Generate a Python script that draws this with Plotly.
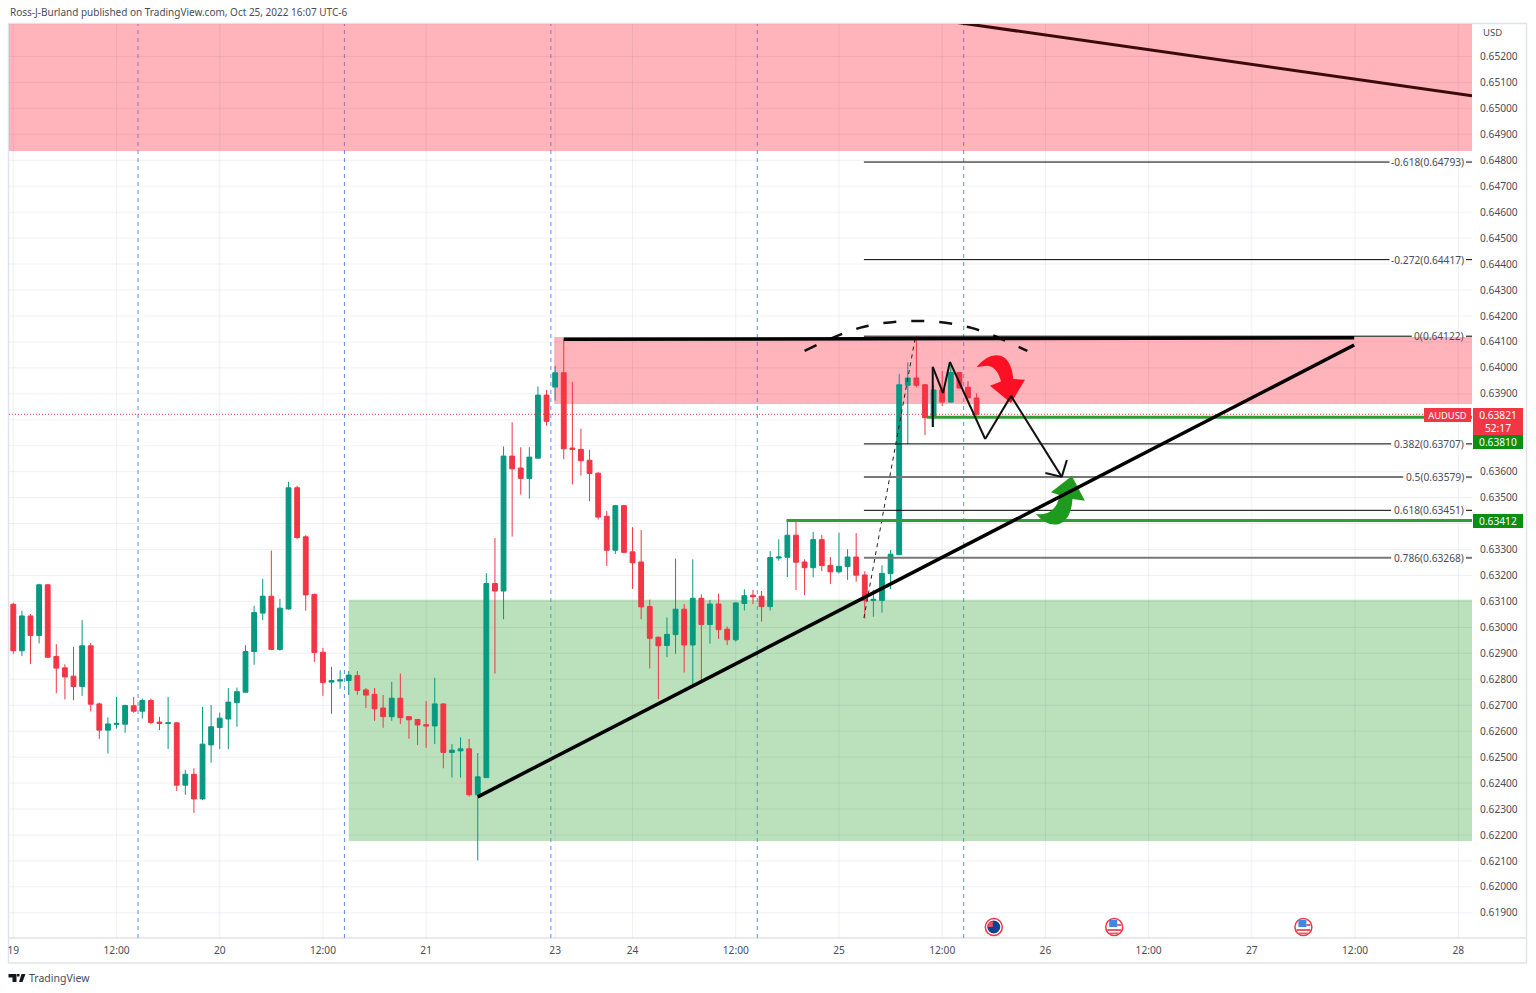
import plotly.graph_objects as go

# ---------- chart data ----------
opens = [
0.63089,0.62910,0.63044,0.62969,0.63164,0.62888,0.62844,0.62812,0.62772,0.62929,
0.62705,0.62604,0.62626,0.62627,0.62698,0.62677,0.62718,0.62635,0.62630,0.62632,
0.62392,0.62434,0.62339,0.62547,0.62614,0.62647,0.62710,0.62750,0.62907,0.63055,
0.63120,0.62915,0.63071,0.63538,0.63349,0.63127,0.62904,0.62789,0.62793,0.62795,
0.62814,0.62759,0.62742,0.62689,0.62656,0.62727,0.62656,0.62645,0.62625,0.62620,
0.62705,0.62518,0.62524,0.62532,0.62355,0.62421,0.63169,0.63140,0.63660,0.63614,
0.63574,0.63652,0.63895,0.63926,0.63981,0.63691,0.63686,0.63644,0.63594,0.63428,
0.63297,0.63469,0.63291,0.63252,0.63080,0.62962,0.62930,0.62972,0.63070,0.62932,
0.63112,0.63011,0.63090,0.62993,0.62952,0.63092,0.63124,0.63120,0.63080,0.63267,
0.63270,0.63355,0.63252,0.63230,0.63338,0.63239,0.63214,0.63234,0.63271,0.63202,
0.63104,0.63104,0.63207,0.63280,0.63933,0.63961,0.63935,0.63808,0.63915,0.63868,
0.63982,0.63925,0.63884]
highs = [
0.63095,0.63064,0.63051,0.63168,0.63166,0.62935,0.62858,0.62925,0.63028,0.62940,
0.62710,0.62653,0.62732,0.62702,0.62732,0.62726,0.62726,0.62655,0.62732,0.62636,
0.62451,0.62457,0.62694,0.62701,0.62671,0.62766,0.62768,0.62931,0.63083,0.63187,
0.63296,0.63110,0.63561,0.63545,0.63355,0.63130,0.62921,0.62848,0.62835,0.62832,
0.62832,0.62766,0.62766,0.62739,0.62790,0.62822,0.62658,0.62647,0.62716,0.62806,
0.62707,0.62550,0.62576,0.62570,0.62516,0.63209,0.63344,0.63697,0.63790,0.63694,
0.63694,0.63928,0.63915,0.64008,0.64112,0.63946,0.63766,0.63684,0.63599,0.63448,
0.63472,0.63472,0.63386,0.63375,0.63107,0.62964,0.63038,0.63265,0.63090,0.63262,
0.63127,0.63106,0.63130,0.63003,0.63096,0.63147,0.63144,0.63140,0.63294,0.63339,
0.63411,0.63414,0.63262,0.63368,0.63356,0.63271,0.63365,0.63301,0.63363,0.63216,
0.63144,0.63239,0.63298,0.63976,0.64021,0.64122,0.63937,0.63934,0.63988,0.64017,
0.63984,0.63949,0.63902]
lows = [
0.62899,0.62889,0.62859,0.62938,0.62883,0.62746,0.62722,0.62719,0.62736,0.62676,
0.62570,0.62514,0.62610,0.62594,0.62671,0.62649,0.62627,0.62604,0.62531,0.62370,
0.62355,0.62285,0.62334,0.62478,0.62531,0.62531,0.62617,0.62750,0.62856,0.63028,
0.62912,0.62910,0.63068,0.63340,0.63064,0.62867,0.62736,0.62667,0.62763,0.62739,
0.62740,0.62689,0.62640,0.62613,0.62640,0.62627,0.62571,0.62547,0.62536,0.62550,
0.62457,0.62421,0.62421,0.62348,0.62102,0.62421,0.62822,0.63031,0.63350,0.63512,
0.63496,0.63651,0.63777,0.63874,0.63648,0.63551,0.63585,0.63486,0.63415,0.63237,
0.63283,0.63286,0.63148,0.63031,0.62842,0.62723,0.62885,0.62898,0.62826,0.62778,
0.62784,0.62937,0.62955,0.62932,0.62945,0.63065,0.63090,0.63022,0.63065,0.63257,
0.63194,0.63144,0.63124,0.63193,0.63217,0.63167,0.63208,0.63183,0.63176,0.63034,
0.63041,0.63057,0.63147,0.63280,0.63705,0.63925,0.63741,0.63773,0.63853,0.63868,
0.63922,0.63884,0.63815]
closes = [
0.62910,0.63044,0.62969,0.63164,0.62885,0.62843,0.62809,0.62772,0.62929,0.62704,
0.62604,0.62628,0.62630,0.62699,0.62677,0.62718,0.62633,0.62630,0.62632,0.62392,
0.62434,0.62339,0.62550,0.62617,0.62650,0.62712,0.62752,0.62907,0.63057,0.63120,
0.62915,0.63074,0.63538,0.63346,0.63125,0.62903,0.62788,0.62795,0.62798,0.62816,
0.62757,0.62739,0.62686,0.62656,0.62727,0.62652,0.62644,0.62624,0.62620,0.62705,
0.62518,0.62527,0.62532,0.62355,0.62424,0.63169,0.63140,0.63660,0.63611,0.63574,
0.63656,0.63895,0.63794,0.63981,0.63688,0.63686,0.63642,0.63593,0.63425,0.63297,
0.63469,0.63289,0.63249,0.63079,0.62958,0.62929,0.62973,0.63070,0.62932,0.63112,
0.63011,0.63090,0.62991,0.62952,0.63094,0.63122,0.63118,0.63080,0.63269,0.63271,
0.63355,0.63251,0.63230,0.63338,0.63238,0.63214,0.63235,0.63271,0.63201,0.63103,
0.63108,0.63208,0.63282,0.63935,0.63961,0.63933,0.63808,0.63915,0.63868,0.63982,
0.63922,0.63884,0.63821]
bars = list(range(len(opens)))

time_ticks = [0, 12, 24, 36, 48, 63, 72, 84, 96, 108, 120, 132, 144, 156, 168]
time_labels = ["19", "12:00", "20", "12:00", "21", "23", "24", "12:00", "25",
               "12:00", "26", "12:00", "27", "12:00", "28"]
price_ticks = [round(0.619 + i * 0.001, 3) for i in range(34)]
hidden_price_labels = [0.634, 0.637, 0.638]   # sit behind the price badges
session_bars = [14.5, 38.5, 62.5, 86.5, 110.5]

fib_levels = ["-0.618", "-0.272", "0", "0.382", "0.5", "0.618", "0.786"]
fib_prices = [0.64793, 0.64417, 0.64122, 0.63707, 0.63579, 0.63451, 0.63268]
fib_label_start = [160.0, 160.0, 162.6, 160.2, 161.6, 160.2, 160.2]
fib_grey = [False, False, False, False, True, False, True]

last_price = 0.63821
support_a = 0.63810
support_b = 0.63412

trend_bars, trend_prices = [54, 155.9], [0.62347, 0.64088]
resist_bars, resist_prices = [64, 155.9], [0.64110, 0.64116]
down_bars, down_prices = [109.3, 169.6], [0.65333, 0.65048]
swing_bars, swing_prices = [98.9, 104.9], [0.63036, 0.64122]
arc_bars = [92, 98.4, 104.9, 111.4, 117.9]
arc_prices = [0.64065, 0.64154, 0.64181, 0.64154, 0.64065]
path_bars = [106.9, 106.9, 108.1, 108.9, 113, 116, 121.9]
path_prices = [0.63772, 0.64004, 0.63903, 0.64023, 0.63726, 0.63892, 0.6358]
head_bars = [120, 121.9, 122.5]
head_prices = [0.63595, 0.6358, 0.63645]

UP, DOWN = "#089981", "#F23645"
GRID = "rgba(30,50,110,0.07)"
FRAME = "#e0e3eb"
TEXT = "#4a4d57"
FONT = "Noto Sans, sans-serif"

X0, X1 = -0.5, 169.6
Y0, Y1 = 0.61803, 0.65325

fig = go.Figure()
fig.add_trace(go.Candlestick(
    x=bars, open=opens, high=highs, low=lows, close=closes,
    increasing=dict(line=dict(color=UP, width=1), fillcolor=UP),
    decreasing=dict(line=dict(color=DOWN, width=1), fillcolor=DOWN),
    whiskerwidth=0, showlegend=False, hoverinfo="skip"))
fig.add_trace(go.Scatter(x=arc_bars, y=arc_prices, mode="lines", showlegend=False, hoverinfo="skip",
                         line=dict(color="#111111", width=2.5, shape="spline", dash="13px,15px")))

shapes = []
def line(x0, y0, x1, y1, color, width, dash="solid", layer="above"):
    shapes.append(dict(type="line", xref="x", yref="y", x0=x0, y0=y0, x1=x1, y1=y1, layer=layer,
                       line=dict(color=color, width=width, dash=dash)))

# session separators, under the zones
for b in session_bars:
    line(b, Y0, b, Y1, "#5b8ff0", 1, "4px,4px", "below")

# zones
for z in [(X0, X1, 0.64836, Y1, "rgba(255,65,82,0.40)"),
          (62.9, X1, 0.63861, 0.64119, "rgba(255,65,82,0.40)"),
          (39, X1, 0.62177, 0.63106, "rgba(76,175,80,0.38)")]:
    shapes.append(dict(type="rect", xref="x", yref="y", x0=z[0], x1=z[1], y0=z[2], y1=z[3],
                       layer="below", fillcolor=z[4], line=dict(width=0)))

# grid, above the zones so it shows darker through them
for t in time_ticks:
    line(t, Y0, t, Y1, GRID, 1, "solid", "below")
for p in price_ticks:
    line(X0, p, X1, p, GRID, 1, "solid", "below")

# last-price line
line(X0, last_price, X1, last_price, DOWN, 1, "1px,2px")

# fib levels with the short stub to the right of each label
for p, start, grey in zip(fib_prices, fib_label_start, fib_grey):
    c, w = ("#777777", 2) if grey else ("#000000", 1)
    line(98.9, p, start, p, c, w)
    line(168.9, p, X1, p, c, w)

# swing and support levels
line(swing_bars[0], swing_prices[0], swing_bars[1], swing_prices[1], "#222222", 1, "4px,4px")
line(106.2, support_a, X1, support_a, "#2f9e33", 3)
line(89.9, support_b, X1, support_b, "#2f9e33", 3)

# curved freehand arrows: anchored in data space, drawn in pixels
def blob(bar, price, path, color, yref="y", xref="x"):
    shapes.append(dict(type="path", xref=xref, yref=yref, xsizemode="pixel", ysizemode="pixel",
                       xanchor=bar, yanchor=price, path=path, fillcolor=color,
                       line=dict(width=0), layer="above"))

blob(115.8, 0.63954,
     "M -32.7 12.7 Q -21 27 -9 24 Q 2 21 4 0.7 L 15.7 0 L 1.7 -23.3 L -19.3 -6 L -8.3 -1.7 "
     "Q -12 13 -22 14 Q -28 13 -32.7 12.7 Z", "#ff0f23")
blob(121.6, 0.63491,
     "M -23.3 -14 Q -12 -27 0 -24 Q 12 -20 13.3 1 L 25.7 -0.7 L 12.7 24 L -8.3 7.7 L 0 5 "
     "Q -1 -8 -11.7 -13 Q -18 -15 -23.3 -14 Z", "#1e9b1e")

# drawn lines
line(trend_bars[0], trend_prices[0], trend_bars[1], trend_prices[1], "#000000", 3.5)
line(resist_bars[0], resist_prices[0], resist_bars[1], resist_prices[1], "#000000", 3.5)
line(down_bars[0], down_prices[0], down_bars[1], down_prices[1], "#3b0a0a", 3)
for i in range(len(path_bars) - 1):
    line(path_bars[i], path_prices[i], path_bars[i + 1], path_prices[i + 1], "#111111", 2)
for i in range(len(head_bars) - 1):
    line(head_bars[i], head_prices[i], head_bars[i + 1], head_prices[i + 1], "#111111", 2)

# event badges
BADGE_Y = (938 - 927) / 914
def circle(bar, r, color, ring=None):
    shapes.append(dict(type="circle", xref="x", yref="paper", xsizemode="pixel", ysizemode="pixel",
                       xanchor=bar, yanchor=BADGE_Y, x0=-r, x1=r, y0=-r, y1=r, fillcolor=color,
                       line=dict(width=1.5 if ring else 0, color=ring or color), layer="above"))
circle(114, 8.5, "#ffffff", DOWN)
circle(114, 6.5, "#16408f")
blob(114, BADGE_Y, "M -6 0 L -1 0 L -1 6 L -5 5 Z", "#e8505b", yref="paper")
for b in (128, 150):
    circle(b, 8.5, "#ffffff", DOWN)
    blob(b, BADGE_Y, "M -5 7 L 3 7 L 3 0 L -5 0 Z", "#3f86e6", yref="paper")
    blob(b, BADGE_Y, "M 3 3 L 7 3 L 7 1 L 3 1 Z", "#ea5a63", yref="paper")
    blob(b, BADGE_Y, "M -7 -2 L 7 -2 L 7 -4 L -7 -4 Z", "#ea5a63", yref="paper")
    blob(b, BADGE_Y, "M -5 -5.5 L 5 -5.5 L 4 -7 L -4 -7 Z", "#ea5a63", yref="paper")

# outer frame, time-axis rule
def px_x(v): return (v - 9) / 1463
def px_y(v): return (938 - v) / 914
shapes.append(dict(type="rect", xref="paper", yref="paper", x0=px_x(8.5), x1=px_x(1526.5), y0=px_y(963),
                   y1=px_y(23.5), layer="below", line=dict(color=FRAME, width=1.5), fillcolor="rgba(0,0,0,0)"))
shapes.append(dict(type="line", xref="paper", yref="paper", x0=px_x(8.5), x1=px_x(1526.5), y0=0, y1=0,
                   layer="below", line=dict(color=FRAME, width=1.5)))

# TradingView logo
shapes.append(dict(type="path", xref="paper", yref="paper", xsizemode="pixel", ysizemode="pixel",
                   xanchor=px_x(8.5), yanchor=px_y(982), layer="above", fillcolor="#131722", line=dict(width=0),
                   path="M 0 8 L 8 8 L 8 0 L 4 0 L 4 4.5 L 0 4.5 Z M 10.5 0 L 14 0 L 17 8 L 13 8 Z M 8.5 8 "
                        "L 11 8 L 11 5.5 L 8.5 5.5 Z"))

annotations = []
def note(text, x, y, xref="x", yref="y", xanchor="left", size=10.2, color=TEXT, **kw):
    annotations.append(dict(text=text, x=x, y=y, xref=xref, yref=yref, xanchor=xanchor, yanchor="middle",
                            showarrow=False, font=dict(family=FONT, size=size, color=color), **kw))

for lvl, p in zip(fib_levels, fib_prices):
    note(f"{lvl}({p:.5f})", 168.8, p, xanchor="right", borderpad=0)

note("USD", px_x(1481), px_y(33), "paper", "paper", size=9.5)
note("Ross-J-Burland published on TradingView.com, Oct 25, 2022 16:07 UTC-6",
     px_x(8), px_y(12), "paper", "paper", size=10)
note("TradingView", px_x(27), px_y(978), "paper", "paper", size=10.5)

def box(text, left, top, w, h, color, size=10.2):
    annotations.append(dict(text=text, x=px_x(left), y=px_y(top), xref="paper", yref="paper",
                            xanchor="left", yanchor="top", showarrow=False, width=w, height=h,
                            bgcolor=color, borderpad=0, borderwidth=0, align="center", valign="middle",
                            font=dict(family=FONT, size=size, color="#ffffff")))

box(f"{last_price:.5f}<br>52:17", 1473, 408, 50, 27, DOWN)
box(f"{support_a:.5f}", 1473, 435, 50, 14, "#0a8f12")
box(f"{support_b:.5f}", 1473, 514, 50, 14, "#0a8f12")
box("AUDUSD", 1424, 408, 47, 14, DOWN, size=9.4)

price_labels = ["" if p in hidden_price_labels else f"{p:.5f}" for p in price_ticks]

fig.update_layout(
    width=1536, height=993, margin=dict(l=9, r=64, t=24, b=55, pad=0, autoexpand=False),
    paper_bgcolor="#ffffff", plot_bgcolor="#ffffff", showlegend=False,
    shapes=shapes, annotations=annotations, boxgap=0.2,
    xaxis=dict(range=[X0, X1], tickmode="array", tickvals=time_ticks, ticktext=time_labels,
               rangeslider=dict(visible=False), showgrid=False, ticklabelstandoff=5,
               zeroline=False, ticks="", tickfont=dict(family=FONT, size=10.2, color=TEXT)),
    yaxis=dict(range=[Y0, Y1], side="right", tickmode="array", tickvals=price_ticks,
               ticktext=price_labels, showgrid=False, ticklabelstandoff=7,
               zeroline=False, ticks="", tickfont=dict(family=FONT, size=10.2, color=TEXT)),
)

fig.write_html("out.html", config=dict(displayModeBar=False), post_script=(
    "document.body.style.margin='0';document.documentElement.style.overflow='hidden';"))
